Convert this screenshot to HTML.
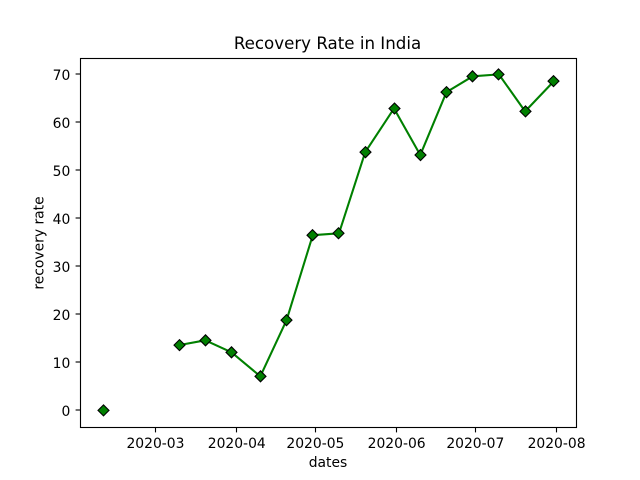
<!DOCTYPE html>
<html lang="en">
<head>
<meta charset="utf-8">
<title>Recovery Rate in India</title>
<style>
html,body{margin:0;padding:0;background:#fff;}
svg{display:block;}
text{font-family:"DejaVu Sans","Liberation Sans",sans-serif;fill:#000;}
</style>
</head>
<body>
<svg id="chart" width="640" height="480" viewBox="0 0 640 480" xmlns="http://www.w3.org/2000/svg">
<rect x="0" y="0" width="640" height="480" fill="#fff"/>
<text x="327.5" y="49" text-anchor="middle" font-size="16.67">Recovery Rate in India</text>
<text x="328" y="467" text-anchor="middle" font-size="13.89">dates</text>
<text transform="translate(43.5 243) rotate(-90)" text-anchor="middle" font-size="13.89">recovery rate</text>
</svg>
<script>
const dates = ["2020-02-10","2020-02-20","2020-02-29","2020-03-10","2020-03-20","2020-03-30","2020-04-10","2020-04-20","2020-04-30","2020-05-10","2020-05-20","2020-05-31","2020-06-10","2020-06-20","2020-06-30","2020-07-10","2020-07-20","2020-07-31"];
const recoveryRate = [0,null,null,13.6,14.6,12.1,7.1,18.8,36.5,36.9,53.8,62.9,53.2,66.3,69.6,70,62.3,68.6];
const xTickLabels = ["2020-03","2020-04","2020-05","2020-06","2020-07","2020-08"];
const xTickDates = ["2020-03-01","2020-04-01","2020-05-01","2020-06-01","2020-07-01","2020-08-01"];
const yTickLabels = [0,10,20,30,40,50,60,70];

const NS = 'http://www.w3.org/2000/svg';
const svg = document.getElementById('chart');
const plot = {left:80,right:576,top:57.6,bottom:427.2};
const days = s => Date.parse(s + 'T00:00:00Z') / 86400000;
const dayValues = dates.map(days);
const validValues = recoveryRate.filter(v => v !== null);
const xMin = Math.min(...dayValues), xMax = Math.max(...dayValues);
const yMin = Math.min(...validValues), yMax = Math.max(...validValues);
const xPad = (xMax - xMin) * 0.05, yPad = (yMax - yMin) * 0.05;
const xScale = d => plot.left + (d - (xMin - xPad)) / ((xMax + xPad) - (xMin - xPad)) * (plot.right - plot.left);
const yScale = v => plot.bottom - (v - (yMin - yPad)) / ((yMax + yPad) - (yMin - yPad)) * (plot.bottom - plot.top);
const snap = p => Math.round(p) + 0.5;

function make(tag, attrs, parent) {
  const el = document.createElementNS(NS, tag);
  for (const k in attrs) el.setAttribute(k, attrs[k]);
  (parent || svg).appendChild(el);
  return el;
}

xTickLabels.forEach((label, i) => {
  const x = xScale(days(xTickDates[i]));
  const tick = make('line', {x1:snap(x), x2:snap(x), y1:427.5, y2:432.4, stroke:'#000', 'stroke-width':1.11});
  
  
  const text = make('text', {x:x + 0.5, y:448, 'text-anchor':'middle', 'font-size':13.89});
  
  
  text.textContent = label;
});

yTickLabels.forEach(v => {
  const y = yScale(v);
  const tick = make('line', {x1:75.6, x2:80.5, y1:snap(y) - 0.5, y2:snap(y) - 0.5, stroke:'#000', 'stroke-width':1.11});
  
  
  const text = make('text', {x:70.3, y:y + 5.8, 'text-anchor':'end', 'font-size':13.89});
  
  
  text.textContent = v;
});

let run = [];
const runs = [];
recoveryRate.forEach((v, i) => {
  if (v === null) {
    if (run.length) runs.push(run);
    run = [];
  } else {
    run.push((xScale(dayValues[i]) + 0.5).toFixed(2) + ',' + yScale(v).toFixed(2));
  }
});
if (run.length) runs.push(run);
runs.forEach(r => {
  const line = make('polyline', {points:r.join(' '), fill:'none', stroke:'#008000', 'stroke-width':2.08, 'stroke-linejoin':'round'});
  
  
});

const half = 5.5;
recoveryRate.forEach((v, i) => {
  if (v === null) return;
  const x = snap(xScale(dayValues[i])), y = yScale(v);
  const pts = [[x, y - half], [x + half, y], [x, y + half], [x - half, y]].map(p => p[0].toFixed(2) + ',' + p[1].toFixed(2)).join(' ');
  const marker = make('polygon', {points:pts, fill:'#008000', stroke:'#000', 'stroke-width':1.1, 'stroke-linejoin':'miter'});
  
  
});

const frame = make('rect', {x:80.5, y:58.5, width:496, height:369, fill:'none', stroke:'#000', 'stroke-width':1.11});


</script>
</body>
</html>
